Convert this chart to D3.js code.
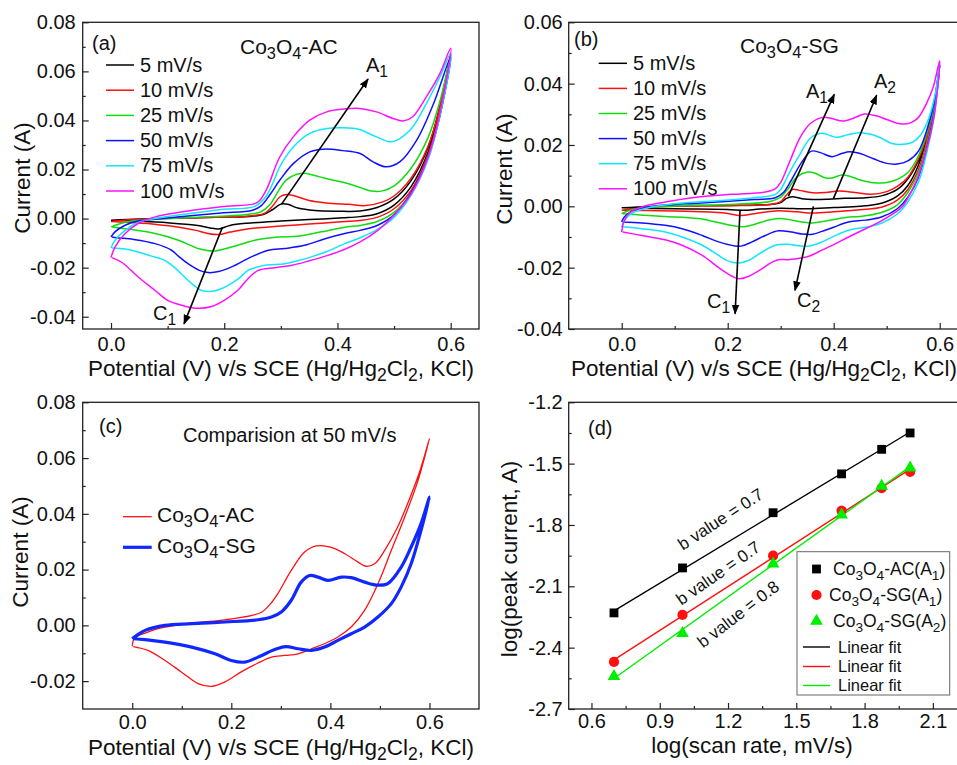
<!DOCTYPE html>
<html>
<head>
<meta charset="utf-8">
<script src="https://cdn.jsdelivr.net/npm/d3@7"></script>
<style>
body { margin: 0; background: #fff; }
svg { display: block; }
text { font-family: 'Liberation Sans', Arial, Helvetica, sans-serif; fill: #111; }
</style>
</head>
<body>
<svg id="fig" width="957" height="765"></svg>
<script>
// ---- (a) Co3O4-AC, [potential V, current A], anodic sweep 0 -> 0.6 then back
var ac5 = [[0,-0.0007],[0.05,-0.0002],[0.12,0.0002],[0.2,0.0006],[0.25,0.001],[0.27,0.0018],[0.285,0.0036],[0.3,0.0059],[0.312,0.0058],[0.33,0.0043],[0.36,0.0033],[0.4,0.003],[0.44,0.0031],[0.47,0.0045],[0.5,0.008],[0.53,0.0155],[0.56,0.029],[0.58,0.045],[0.6,0.067],
  [0.58,0.043],[0.56,0.027],[0.53,0.013],[0.5,0.0055],[0.47,0.002],[0.44,0.0008],[0.41,0.0003],[0.35,-0.0004],[0.3,-0.001],[0.24,-0.0019],[0.21,-0.0028],[0.19,-0.0042],[0.175,-0.0038],[0.15,-0.0027],[0.1,-0.0017],[0.05,-0.0011],[0.002,-0.0007]];
var ac10 = [[0,-0.0012],[0.04,-0.0004],[0.1,0.0001],[0.2,0.0006],[0.25,0.0012],[0.27,0.002],[0.285,0.005],[0.298,0.0088],[0.31,0.0098],[0.325,0.0092],[0.35,0.0074],[0.38,0.0064],[0.42,0.0058],[0.45,0.0053],[0.48,0.0068],[0.5,0.0092],[0.53,0.0165],[0.56,0.0295],[0.58,0.0445],[0.6,0.067],
  [0.58,0.042],[0.56,0.026],[0.53,0.0115],[0.5,0.004],[0.47,0.0005],[0.44,-0.0008],[0.4,-0.0014],[0.35,-0.0022],[0.32,-0.0027],[0.28,-0.0034],[0.24,-0.0042],[0.21,-0.0055],[0.19,-0.0065],[0.17,-0.006],[0.15,-0.0048],[0.12,-0.0035],[0.08,-0.0024],[0.04,-0.0017],[0.002,-0.0012]];
var ac25 = [[0,-0.0034],[0.01,-0.0025],[0.03,-0.0013],[0.06,-0.0005],[0.1,0.0],[0.18,0.0008],[0.24,0.0017],[0.265,0.0028],[0.28,0.0055],[0.295,0.011],[0.31,0.0158],[0.335,0.0184],[0.36,0.0176],[0.38,0.0163],[0.41,0.0148],[0.44,0.0127],[0.46,0.0112],[0.48,0.0113],[0.5,0.0133],[0.53,0.0205],[0.56,0.033],[0.58,0.047],[0.6,0.066],
  [0.58,0.041],[0.56,0.025],[0.53,0.0105],[0.5,0.0025],[0.47,-0.0012],[0.44,-0.0028],[0.413,-0.0035],[0.372,-0.0054],[0.33,-0.0072],[0.295,-0.0075],[0.254,-0.0088],[0.213,-0.0116],[0.184,-0.0132],[0.165,-0.0128],[0.154,-0.0122],[0.119,-0.0088],[0.078,-0.0061],[0.025,-0.0041],[0.002,-0.0034]];
var ac50 = [[0,-0.0075],[0.007,-0.0054],[0.025,-0.0027],[0.048,-0.001],[0.078,-0.0003],[0.136,0.0011],[0.195,0.0023],[0.25,0.0034],[0.266,0.0054],[0.28,0.0095],[0.298,0.0156],[0.322,0.0224],[0.351,0.0272],[0.375,0.0283],[0.41,0.0277],[0.44,0.0265],[0.463,0.0231],[0.486,0.0211],[0.51,0.0231],[0.54,0.032],[0.57,0.047],[0.6,0.066],
  [0.58,0.041],[0.56,0.025],[0.53,0.0105],[0.5,0.0015],[0.47,-0.0028],[0.44,-0.0048],[0.413,-0.0061],[0.378,-0.0082],[0.342,-0.0109],[0.307,-0.0122],[0.278,-0.0129],[0.248,-0.0156],[0.213,-0.0197],[0.19,-0.0216],[0.172,-0.022],[0.155,-0.021],[0.136,-0.0184],[0.12,-0.0155],[0.107,-0.0129],[0.078,-0.0102],[0.04,-0.0085],[0.01,-0.0078],[0.002,-0.0075]];
var ac75 = [[0,-0.012],[0.007,-0.0088],[0.025,-0.0048],[0.048,-0.0016],[0.078,0.0],[0.136,0.002],[0.195,0.0037],[0.254,0.005],[0.272,0.0085],[0.285,0.014],[0.298,0.0211],[0.322,0.0292],[0.351,0.0347],[0.381,0.0367],[0.41,0.037],[0.439,0.0363],[0.469,0.0333],[0.496,0.0313],[0.528,0.036],[0.557,0.0469],[0.581,0.0578],[0.6,0.0673],
  [0.58,0.041],[0.56,0.024],[0.53,0.0095],[0.5,0.0005],[0.47,-0.0045],[0.44,-0.0078],[0.413,-0.0102],[0.38,-0.0135],[0.354,-0.0156],[0.33,-0.0172],[0.307,-0.0184],[0.272,-0.019],[0.255,-0.02],[0.242,-0.0211],[0.225,-0.0245],[0.207,-0.0272],[0.19,-0.029],[0.175,-0.0297],[0.16,-0.0293],[0.145,-0.027],[0.13,-0.0238],[0.11,-0.0195],[0.095,-0.017],[0.07,-0.0152],[0.048,-0.0136],[0.025,-0.0124],[0.002,-0.012]];
var ac100 = [[0,-0.0159],[0.007,-0.0116],[0.025,-0.0061],[0.048,-0.002],[0.078,0.0007],[0.136,0.0031],[0.195,0.0048],[0.254,0.0061],[0.263,0.0075],[0.275,0.012],[0.298,0.0251],[0.322,0.0333],[0.351,0.0401],[0.381,0.0435],[0.41,0.0446],[0.439,0.0449],[0.469,0.0435],[0.498,0.0408],[0.516,0.0398],[0.533,0.0415],[0.557,0.0496],[0.581,0.0592],[0.6,0.0694],
  [0.58,0.042],[0.56,0.025],[0.53,0.01],[0.5,0.0015],[0.47,-0.005],[0.44,-0.0095],[0.41,-0.0128],[0.38,-0.0152],[0.35,-0.0172],[0.32,-0.019],[0.29,-0.02],[0.26,-0.0211],[0.242,-0.0245],[0.225,-0.029],[0.2,-0.0333],[0.178,-0.0358],[0.148,-0.0365],[0.12,-0.035],[0.1,-0.0333],[0.078,-0.0293],[0.048,-0.0238],[0.02,-0.018],[0.002,-0.0159]];

// ---- (b) Co3O4-SG
var sg5 = [[0,-0.0005],[0.1,0.0002],[0.2,0.0003],[0.28,0.0006],[0.3,0.0012],[0.31,0.0025],[0.322,0.0031],[0.34,0.0025],[0.36,0.0022],[0.39,0.0023],[0.42,0.0026],[0.46,0.0028],[0.49,0.0034],[0.52,0.0055],[0.54,0.009],[0.56,0.015],[0.575,0.022],[0.59,0.033],[0.6,0.046],
  [0.59,0.034],[0.575,0.022],[0.56,0.0135],[0.54,0.0068],[0.52,0.0033],[0.49,0.001],[0.45,0.0],[0.4,-0.0004],[0.35,-0.0008],[0.3,-0.0006],[0.26,-0.0009],[0.23,-0.0013],[0.2,-0.001],[0.1,-0.0008],[0.002,-0.0005]];
var sg10 = [[0,-0.0013],[0.05,-0.0004],[0.1,0.0],[0.2,0.0002],[0.28,0.0006],[0.3,0.0015],[0.31,0.0035],[0.322,0.0055],[0.335,0.0052],[0.36,0.0044],[0.385,0.0045],[0.41,0.005],[0.44,0.0045],[0.47,0.0039],[0.5,0.0048],[0.52,0.0065],[0.54,0.0095],[0.56,0.0155],[0.575,0.0225],[0.59,0.0335],[0.6,0.046],
  [0.59,0.0325],[0.575,0.0205],[0.56,0.012],[0.54,0.0055],[0.52,0.002],[0.49,-0.0003],[0.45,-0.0011],[0.4,-0.0018],[0.36,-0.0022],[0.33,-0.0018],[0.29,-0.0015],[0.25,-0.0024],[0.225,-0.003],[0.19,-0.0021],[0.12,-0.0016],[0.05,-0.0014],[0.002,-0.0013]];
var sg25 = [[0,-0.0024],[0.01,-0.0016],[0.04,-0.0005],[0.1,0.0001],[0.2,0.0006],[0.28,0.0016],[0.3,0.003],[0.315,0.006],[0.33,0.0095],[0.35,0.0112],[0.365,0.0108],[0.385,0.0092],[0.4,0.0094],[0.415,0.0102],[0.43,0.0098],[0.45,0.0086],[0.475,0.0077],[0.5,0.0078],[0.52,0.0088],[0.54,0.011],[0.56,0.0165],[0.575,0.0235],[0.59,0.034],[0.6,0.046],
  [0.59,0.0315],[0.575,0.0195],[0.56,0.011],[0.54,0.0045],[0.52,0.0005],[0.49,-0.002],[0.45,-0.0033],[0.43,-0.0035],[0.39,-0.0046],[0.36,-0.0054],[0.34,-0.0051],[0.3,-0.004],[0.28,-0.0044],[0.25,-0.0059],[0.227,-0.0067],[0.2,-0.006],[0.145,-0.004],[0.08,-0.0033],[0.04,-0.0029],[0.002,-0.0024]];
var sg50 = [[0,-0.0051],[0.005,-0.0035],[0.02,-0.0015],[0.06,0.0],[0.15,0.0011],[0.25,0.0022],[0.29,0.0028],[0.305,0.0045],[0.32,0.0085],[0.34,0.0145],[0.358,0.018],[0.375,0.0175],[0.397,0.0162],[0.415,0.0172],[0.43,0.0178],[0.45,0.0172],[0.475,0.0155],[0.5,0.014],[0.52,0.0138],[0.54,0.0148],[0.56,0.018],[0.575,0.0245],[0.59,0.0345],[0.6,0.046],
  [0.59,0.031],[0.575,0.0185],[0.56,0.0095],[0.54,0.003],[0.52,-0.0008],[0.49,-0.0035],[0.46,-0.0045],[0.428,-0.0051],[0.4,-0.0068],[0.384,-0.0078],[0.36,-0.0091],[0.34,-0.009],[0.32,-0.0084],[0.296,-0.008],[0.271,-0.0095],[0.246,-0.0116],[0.227,-0.0129],[0.214,-0.0129],[0.183,-0.0116],[0.152,-0.0095],[0.114,-0.0073],[0.082,-0.0062],[0.038,-0.0054],[0.002,-0.0051]];
var sg75 = [[0,-0.0067],[0.004,-0.0048],[0.02,-0.0022],[0.05,-0.0005],[0.1,0.0008],[0.18,0.0018],[0.25,0.0028],[0.29,0.0039],[0.3,0.0055],[0.315,0.0105],[0.337,0.0172],[0.356,0.0222],[0.377,0.0238],[0.406,0.0225],[0.425,0.0233],[0.447,0.024],[0.47,0.0235],[0.49,0.0222],[0.51,0.0205],[0.53,0.0202],[0.55,0.021],[0.565,0.0235],[0.58,0.029],[0.592,0.037],[0.6,0.0465],
  [0.59,0.03],[0.575,0.017],[0.56,0.008],[0.54,0.0015],[0.52,-0.0025],[0.49,-0.0055],[0.46,-0.0068],[0.428,-0.0078],[0.4,-0.0098],[0.378,-0.0116],[0.353,-0.013],[0.33,-0.0128],[0.315,-0.0124],[0.29,-0.0127],[0.265,-0.0149],[0.24,-0.0176],[0.221,-0.0185],[0.2,-0.0178],[0.183,-0.016],[0.152,-0.0127],[0.114,-0.01],[0.082,-0.0084],[0.038,-0.0073],[0.002,-0.0067]];
var sg100 = [[0,-0.0084],[0.003,-0.0056],[0.013,-0.0024],[0.038,-0.0002],[0.082,0.0014],[0.145,0.003],[0.208,0.0039],[0.271,0.0047],[0.29,0.0058],[0.3,0.0078],[0.318,0.015],[0.337,0.0226],[0.356,0.027],[0.38,0.029],[0.397,0.0286],[0.417,0.0278],[0.438,0.0288],[0.458,0.0301],[0.48,0.0295],[0.5,0.0283],[0.525,0.0269],[0.545,0.0272],[0.56,0.029],[0.575,0.0335],[0.588,0.039],[0.6,0.0475],
  [0.59,0.03],[0.579,0.021],[0.56,0.01],[0.547,0.005],[0.53,0.0],[0.516,-0.002],[0.484,-0.0053],[0.453,-0.0079],[0.428,-0.01],[0.4,-0.0125],[0.378,-0.0143],[0.353,-0.0163],[0.34,-0.0168],[0.315,-0.0174],[0.296,-0.0174],[0.284,-0.0182],[0.265,-0.0203],[0.24,-0.0228],[0.221,-0.0236],[0.208,-0.0228],[0.183,-0.02],[0.152,-0.016],[0.114,-0.0127],[0.082,-0.0109],[0.038,-0.0095],[0.002,-0.0084]];

var scanLabels = ["5 mV/s", "10 mV/s", "25 mV/s", "50 mV/s", "75 mV/s", "100 mV/s"];
var scanColors = ["#000000", "#ff1010", "#10dd10", "#1010ff", "#10e6ff", "#ff10ff"];

// ---- (c) comparison at 50 mV/s
var cmpAC = [[0,-0.0075],[0.005,-0.0045],[0.03,-0.0025],[0.052,-0.0012],[0.12,0.0008],[0.187,0.002],[0.24,0.0035],[0.262,0.0048],[0.278,0.0075],[0.294,0.0114],[0.321,0.0197],[0.348,0.0263],[0.372,0.0285],[0.402,0.028],[0.429,0.0257],[0.456,0.0227],[0.472,0.0212],[0.49,0.0222],[0.51,0.027],[0.535,0.035],[0.556,0.0437],[0.58,0.055],[0.6,0.067],
  [0.577,0.052],[0.55,0.0389],[0.523,0.0269],[0.496,0.0149],[0.469,0.0054],[0.442,-0.0006],[0.415,-0.0042],[0.388,-0.0066],[0.362,-0.0084],[0.335,-0.0102],[0.308,-0.0108],[0.281,-0.0114],[0.254,-0.0135],[0.22,-0.0167],[0.187,-0.0203],[0.16,-0.0219],[0.133,-0.0209],[0.099,-0.0167],[0.066,-0.0126],[0.032,-0.009],[0.002,-0.0076]];
var cmpSG = [[0,-0.0048],[0.01,-0.0035],[0.026,-0.0018],[0.066,0.0],[0.12,0.0006],[0.187,0.0012],[0.254,0.002],[0.281,0.003],[0.301,0.0048],[0.321,0.009],[0.341,0.0155],[0.358,0.0179],[0.375,0.0173],[0.395,0.0161],[0.422,0.0173],[0.442,0.0171],[0.469,0.0155],[0.496,0.0144],[0.516,0.015],[0.543,0.0209],[0.563,0.0281],[0.583,0.0365],[0.6,0.046],
  [0.583,0.0341],[0.563,0.0221],[0.543,0.0138],[0.523,0.0078],[0.496,0.003],[0.469,-0.0006],[0.442,-0.003],[0.415,-0.0054],[0.388,-0.0078],[0.362,-0.009],[0.335,-0.0084],[0.31,-0.0076],[0.29,-0.0085],[0.254,-0.0114],[0.227,-0.0132],[0.2,-0.0126],[0.167,-0.0102],[0.12,-0.0078],[0.066,-0.006],[0.026,-0.0051],[0.002,-0.0048]];

// ---- (d) log(peak current) vs log(scan rate)
var logRate = [0.699, 1.0, 1.398, 1.699, 1.875, 2.0];
var acA1 = [-2.23, -2.01, -1.74, -1.55, -1.43, -1.35];
var sgA1 = [-2.47, -2.24, -1.95, -1.73, -1.62, -1.54];
var sgA2 = [-2.54, -2.33, -1.99, -1.75, -1.61, -1.52];
var bLabels = ["b value = 0.7", "b value = 0.7", "b value = 0.8"];

var svg = d3.select("#fig");
var defs = svg.append("defs");
defs.append("marker")
	.attr("id", "arrow")
	.attr("viewBox", "0 0 10 10")
	.attr("refX", 9).attr("refY", 5)
	.attr("markerWidth", 10).attr("markerHeight", 10)
	.attr("markerUnits", "userSpaceOnUse")
	.attr("orient", "auto")
	.append("path").attr("d", "M0,1.2L10,5L0,8.8Z").attr("fill", "#000");

function styleAxis(a) {
	a.attr("font-family", null).attr("font-size", null);
	a.select(".domain").remove();
	a.selectAll("line").attr("stroke", "#222").attr("stroke-width", 1.2);
	a.selectAll("text").style("font-size", "20px").attr("fill", "#111");
	return a;
}

function panel(o) {
	var x = d3.scaleLinear().domain(o.xd).range([o.left, o.right]);
	var y = d3.scaleLinear().domain(o.yd).range([o.bottom, o.top]);
	var g = svg.append("g");
	styleAxis(g.append("g").attr("transform", "translate(0," + o.bottom + ")")
		.call(d3.axisBottom(x).tickValues(o.xMinor).tickSize(-3).tickFormat("")));
	styleAxis(g.append("g").attr("transform", "translate(0," + o.bottom + ")")
		.call(d3.axisBottom(x).tickValues(o.xMajor).tickSize(-6).tickPadding(o.xPad).tickFormat(o.xFmt)));
	styleAxis(g.append("g").attr("transform", "translate(" + o.left + ",0)")
		.call(d3.axisLeft(y).tickValues(o.yMinor).tickSize(-3).tickFormat("")));
	styleAxis(g.append("g").attr("transform", "translate(" + o.left + ",0)")
		.call(d3.axisLeft(y).tickValues(o.yMajor).tickSize(-6).tickPadding(o.yPad).tickFormat(o.yFmt)));
	g.append("rect")
		.attr("x", o.left).attr("y", o.top)
		.attr("width", o.right - o.left).attr("height", o.bottom - o.top)
		.attr("fill", "none").attr("stroke", "#222").attr("stroke-width", 1.3);
	return { x: x, y: y, g: g };
}

// text with "_x" subscripts
function richText(parent, str, x, y, fs, anchor) {
	var t = parent.append("text").attr("x", x).attr("y", y).style("font-size", fs + "px");
	if (anchor) t.attr("text-anchor", anchor);
	var shift = 0;
	str.split(/(_.)/).filter(function(s) { return s.length; }).forEach(function(p) {
		if (p[0] === "_") {
			var d = fs * 0.24;
			t.append("tspan").attr("dy", d - shift).style("font-size", (fs * 0.78) + "px").text(p[1]);
			shift = d;
		} else {
			t.append("tspan").attr("dy", -shift).text(p);
			shift = 0;
		}
	});
	return t;
}

function yTitle(str, x, y) {
	svg.append("text")
		.attr("transform", "translate(" + x + "," + y + ") rotate(-90)")
		.attr("text-anchor", "middle")
		.style("font-size", "22.5px")
		.text(str);
}

function arrow(p, from, to) {
	svg.append("line")
		.attr("x1", p.x(from[0])).attr("y1", p.y(from[1]))
		.attr("x2", p.x(to[0])).attr("y2", p.y(to[1]))
		.attr("stroke", "#000").attr("stroke-width", 1.6)
		.attr("marker-end", "url(#arrow)");
}

var f2 = function(d) { return d.toFixed(2); };
var f1 = function(d) { return d.toFixed(1); };
var cvLine = function(p) {
	return d3.line()
		.x(function(d) { return p.x(d[0]); })
		.y(function(d) { return p.y(d[1]); })
		.curve(d3.curveCatmullRom.alpha(0.5));
};
var potTitle = "Potential (V) v/s SCE (Hg/Hg_2Cl_2, KCl)";

// ---------- panel (a)
var pa = panel({
	left: 82.7, right: 479, top: 22.3, bottom: 329,
	xd: [-0.05, 0.65], yd: [-0.045, 0.08],
	xMajor: [0, 0.2, 0.4, 0.6], xMinor: [0.1, 0.3, 0.5],
	yMajor: [-0.04, -0.02, 0, 0.02, 0.04, 0.06, 0.08], yMinor: [-0.03, -0.01, 0.01, 0.03, 0.05, 0.07],
	xFmt: f1, yFmt: f2, xPad: 8, yPad: 7
});
[ac5, ac10, ac25, ac50, ac75, ac100].forEach(function(c, i) {
	pa.g.append("path").datum(c).attr("d", cvLine(pa))
		.attr("fill", "none").attr("stroke", scanColors[i]).attr("stroke-width", 1.5);
});
scanLabels.forEach(function(s, i) {
	var ly = 65 + i * 25.2;
	svg.append("line").attr("x1", 106).attr("x2", 134).attr("y1", ly).attr("y2", ly)
		.attr("stroke", scanColors[i]).attr("stroke-width", 1.5);
	svg.append("text").attr("x", 140).attr("y", ly + 6.5).style("font-size", "20px").text(s);
});
svg.append("text").attr("x", 92).attr("y", 50).style("font-size", "20px").text("(a)");
richText(svg, "Co_3O_4-AC", 240, 54, 21);
arrow(pa, [0.301, 0.0058], [0.454, 0.0569]);
arrow(pa, [0.197, -0.0034], [0.129, -0.0429]);
richText(svg, "A_1", 366, 72, 20);
richText(svg, "C_1", 153, 320, 20);
richText(svg, potTitle, 281, 376, 22.5, "middle");
yTitle("Current (A)", 30, 178);

// ---------- panel (b)
var pb = panel({
	left: 568.7, right: 966.2, top: 22.3, bottom: 329,
	xd: [-0.1, 0.65], yd: [-0.04, 0.06],
	xMajor: [0, 0.2, 0.4, 0.6], xMinor: [0.1, 0.3, 0.5],
	yMajor: [-0.04, -0.02, 0, 0.02, 0.04, 0.06], yMinor: [-0.03, -0.01, 0.01, 0.03, 0.05],
	xFmt: f1, yFmt: f2, xPad: 8, yPad: 6
});
[sg5, sg10, sg25, sg50, sg75, sg100].forEach(function(c, i) {
	pb.g.append("path").datum(c).attr("d", cvLine(pb))
		.attr("fill", "none").attr("stroke", scanColors[i]).attr("stroke-width", 1.5);
});
scanLabels.forEach(function(s, i) {
	var ly = 63.3 + i * 25.1;
	svg.append("line").attr("x1", 598.7).attr("x2", 627).attr("y1", ly).attr("y2", ly)
		.attr("stroke", scanColors[i]).attr("stroke-width", 1.5);
	svg.append("text").attr("x", 633).attr("y", ly + 6.5).style("font-size", "20px").text(s);
});
svg.append("text").attr("x", 574).attr("y", 46).style("font-size", "20px").text("(b)");
richText(svg, "Co_3O_4-SG", 740, 53, 21);
arrow(pb, [0.3145, 0.0033], [0.401, 0.0365]);
arrow(pb, [0.3995, 0.0025], [0.481, 0.0362]);
arrow(pb, [0.2233, -0.0011], [0.214, -0.035]);
arrow(pb, [0.3617, 0.0], [0.327, -0.0274]);
richText(svg, "A_1", 806, 98, 20);
richText(svg, "A_2", 874, 88, 20);
richText(svg, "C_1", 707, 308, 20);
richText(svg, "C_2", 797, 307, 20);
richText(svg, potTitle, 764, 376, 22.5, "middle");
yTitle("Current (A)", 512, 169);

// ---------- panel (c)
var pc = panel({
	left: 82.7, right: 479, top: 402.3, bottom: 709,
	xd: [-0.1, 0.7], yd: [-0.03, 0.08],
	xMajor: [0, 0.2, 0.4, 0.6], xMinor: [0.1, 0.3, 0.5],
	yMajor: [-0.02, 0, 0.02, 0.04, 0.06, 0.08], yMinor: [-0.01, 0.01, 0.03, 0.05, 0.07],
	xFmt: f1, yFmt: f2, xPad: 6, yPad: 7
});
pc.g.append("path").datum(cmpAC).attr("d", cvLine(pc))
	.attr("fill", "none").attr("stroke", "#ff1010").attr("stroke-width", 1.3);
pc.g.append("path").datum(cmpSG).attr("d", cvLine(pc))
	.attr("fill", "none").attr("stroke", "#1028ff").attr("stroke-width", 3.2);
svg.append("line").attr("x1", 123).attr("x2", 151.7).attr("y1", 516.7).attr("y2", 516.7)
	.attr("stroke", "#ff1010").attr("stroke-width", 1.3);
svg.append("line").attr("x1", 123).attr("x2", 151.7).attr("y1", 547.3).attr("y2", 547.3)
	.attr("stroke", "#1028ff").attr("stroke-width", 3.2);
richText(svg, "Co_3O_4-AC", 157, 522, 21);
richText(svg, "Co_3O_4-SG", 157, 552.5, 21);
svg.append("text").attr("x", 99).attr("y", 433).style("font-size", "20px").text("(c)");
svg.append("text").attr("x", 183).attr("y", 442).style("font-size", "20px").text("Comparision at 50 mV/s");
richText(svg, potTitle, 281, 755, 22.5, "middle");
yTitle("Current (A)", 28, 552);

// ---------- panel (d)
var pd = panel({
	left: 568.7, right: 967, top: 402.3, bottom: 709,
	xd: [0.5, 2.25], yd: [-2.7, -1.2],
	xMajor: [0.6, 0.9, 1.2, 1.5, 1.8, 2.1], xMinor: [0.75, 1.05, 1.35, 1.65, 1.95],
	yMajor: [-2.7, -2.4, -2.1, -1.8, -1.5, -1.2], yMinor: [-2.55, -2.25, -1.95, -1.65, -1.35],
	xFmt: f1, yFmt: f1, xPad: 5, yPad: 6
});
function linFit(xs, ys) {
	var mx = d3.mean(xs), my = d3.mean(ys);
	var b = d3.sum(xs, function(v, i) { return (v - mx) * (ys[i] - my); }) /
		d3.sum(xs, function(v) { return (v - mx) * (v - mx); });
	return { b: b, a: my - b * mx };
}
var dSeries = [
	{ ys: acA1, color: "#000000", sym: d3.symbolSquare, size: 78, name: "Co_3O_4-AC(A_1)" },
	{ ys: sgA1, color: "#ff1010", sym: d3.symbolCircle, size: 82, name: "Co_3O_4-SG(A_1)" },
	{ ys: sgA2, color: "#00ee00", sym: d3.symbolTriangle, size: 70, name: "Co_3O_4-SG(A_2)" }
];
var bPos = [[720.5, 519], [718, 573], [738, 614]];
dSeries.forEach(function(s, k) {
	var f = linFit(logRate, s.ys);
	var x1 = logRate[0], x2 = logRate[logRate.length - 1];
	pd.g.append("line")
		.attr("x1", pd.x(x1)).attr("y1", pd.y(f.a + f.b * x1))
		.attr("x2", pd.x(x2)).attr("y2", pd.y(f.a + f.b * x2))
		.attr("stroke", s.color).attr("stroke-width", 1.4);
	var ang = Math.atan2(pd.y(f.a + f.b * x2) - pd.y(f.a + f.b * x1), pd.x(x2) - pd.x(x1)) * 180 / Math.PI;
	svg.append("text")
		.attr("transform", "translate(" + bPos[k][0] + "," + bPos[k][1] + ") rotate(" + (ang - 2) + ")")
		.attr("text-anchor", "middle").attr("dy", "0.35em")
		.style("font-size", "17px").text(bLabels[k]);
});
dSeries.forEach(function(s) {
	pd.g.selectAll(null).data(logRate).enter().append("path")
		.attr("d", d3.symbol().type(s.sym).size(s.size))
		.attr("transform", function(d, i) { return "translate(" + pd.x(d) + "," + pd.y(s.ys[i]) + ")"; })
		.attr("fill", s.color);
});
// legend (d)
svg.append("rect").attr("x", 797).attr("y", 551.7).attr("width", 152.7).attr("height", 143.3)
	.attr("fill", "#fff").attr("stroke", "#666").attr("stroke-width", 1);
var legY = [569, 595, 621];
var legTx = [833, 829, 833];
dSeries.forEach(function(s, k) {
	svg.append("path").attr("d", d3.symbol().type(s.sym).size(s.size))
		.attr("transform", "translate(816.5," + legY[k] + ")").attr("fill", s.color);
	richText(svg, s.name, legTx[k], legY[k] + 6.3, 17.5);
});
var fitY = [647, 666.5, 685.5];
dSeries.forEach(function(s, k) {
	svg.append("line").attr("x1", 803).attr("x2", 830).attr("y1", fitY[k]).attr("y2", fitY[k])
		.attr("stroke", s.color).attr("stroke-width", 1.4);
	svg.append("text").attr("x", 838).attr("y", fitY[k] + 5.8).style("font-size", "16.5px").text("Linear fit");
});
svg.append("text").attr("x", 588).attr("y", 435).style("font-size", "20px").text("(d)");
svg.append("text").attr("x", 752).attr("y", 753).attr("text-anchor", "middle").style("font-size", "22.5px").text("log(scan rate, mV/s)");
yTitle("log(peak current, A)", 517, 559);
</script>
</body>
</html>
